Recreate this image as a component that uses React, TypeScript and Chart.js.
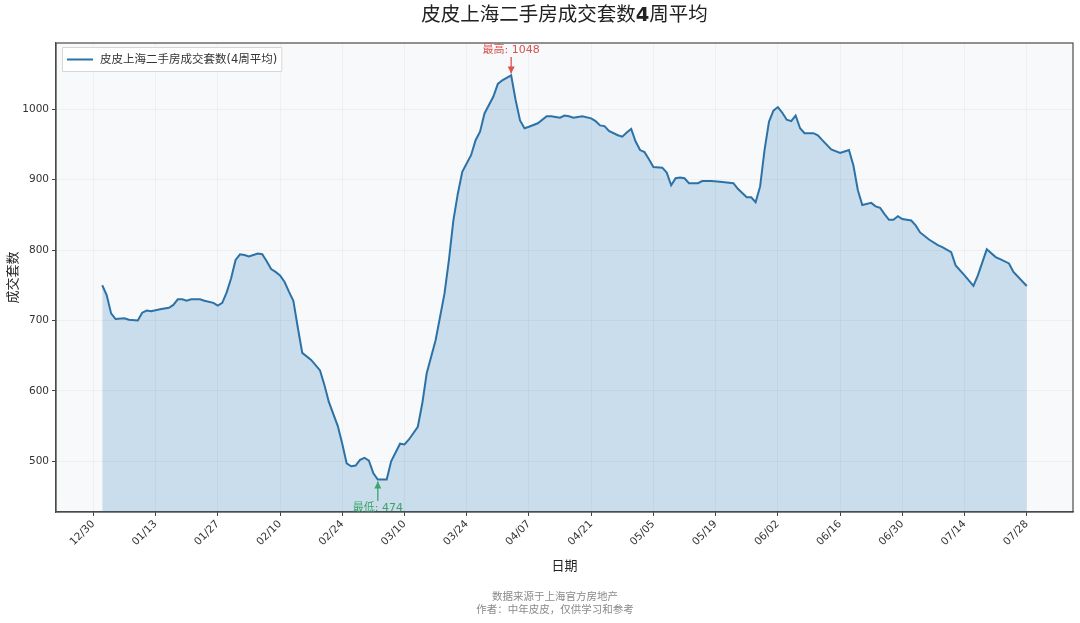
import { useEffect, useRef } from 'react';
import { Chart, registerables } from 'chart.js';

Chart.register(...registerables);

const START_DATE = '2024-12-30';

const dates = [
  '2025-01-01', '2025-01-02', '2025-01-03', '2025-01-04', '2025-01-06', '2025-01-07', '2025-01-09', '2025-01-10',
  '2025-01-11', '2025-01-12', '2025-01-14', '2025-01-16', '2025-01-17', '2025-01-18', '2025-01-19', '2025-01-20',
  '2025-01-21', '2025-01-23', '2025-01-24', '2025-01-26', '2025-01-27', '2025-01-28', '2025-01-29', '2025-01-30',
  '2025-01-31', '2025-02-01', '2025-02-02', '2025-02-03', '2025-02-04', '2025-02-05', '2025-02-06', '2025-02-07',
  '2025-02-08', '2025-02-09', '2025-02-10', '2025-02-11', '2025-02-12', '2025-02-13', '2025-02-14', '2025-02-15',
  '2025-02-17', '2025-02-19', '2025-02-20', '2025-02-21', '2025-02-23', '2025-02-24', '2025-02-25', '2025-02-26',
  '2025-02-27', '2025-02-28', '2025-03-01', '2025-03-02', '2025-03-03', '2025-03-04', '2025-03-06', '2025-03-07',
  '2025-03-09', '2025-03-10', '2025-03-11', '2025-03-13', '2025-03-14', '2025-03-15', '2025-03-17', '2025-03-19',
  '2025-03-20', '2025-03-21', '2025-03-22', '2025-03-23', '2025-03-25', '2025-03-26', '2025-03-27', '2025-03-28',
  '2025-03-30', '2025-03-31', '2025-04-01', '2025-04-03', '2025-04-04', '2025-04-05', '2025-04-06', '2025-04-07',
  '2025-04-09', '2025-04-11', '2025-04-12', '2025-04-14', '2025-04-15', '2025-04-16', '2025-04-17', '2025-04-19',
  '2025-04-21', '2025-04-22', '2025-04-23', '2025-04-24', '2025-04-25', '2025-04-27', '2025-04-28', '2025-04-29',
  '2025-04-30', '2025-05-01', '2025-05-02', '2025-05-03', '2025-05-04', '2025-05-05', '2025-05-07', '2025-05-08',
  '2025-05-09', '2025-05-10', '2025-05-11', '2025-05-12', '2025-05-13', '2025-05-15', '2025-05-16', '2025-05-18',
  '2025-05-20', '2025-05-23', '2025-05-24', '2025-05-26', '2025-05-27', '2025-05-28', '2025-05-29', '2025-05-30',
  '2025-05-31', '2025-06-01', '2025-06-02', '2025-06-03', '2025-06-04', '2025-06-05', '2025-06-06', '2025-06-07',
  '2025-06-08', '2025-06-10', '2025-06-11', '2025-06-12', '2025-06-14', '2025-06-16', '2025-06-17', '2025-06-18',
  '2025-06-19', '2025-06-20', '2025-06-21', '2025-06-23', '2025-06-24', '2025-06-25', '2025-06-26', '2025-06-27',
  '2025-06-28', '2025-06-29', '2025-06-30', '2025-07-02', '2025-07-03', '2025-07-04', '2025-07-06', '2025-07-08',
  '2025-07-09', '2025-07-11', '2025-07-12', '2025-07-14', '2025-07-16', '2025-07-17', '2025-07-19', '2025-07-21',
  '2025-07-22', '2025-07-24', '2025-07-25', '2025-07-28',
];

const values = [
  750, 736, 710, 702, 703, 701, 700, 711,
  714, 713, 716, 718, 722, 730, 730, 728,
  730, 730, 728, 725, 721, 725, 740, 760,
  786, 794, 793, 791, 793, 795, 794, 784,
  773, 769, 764, 755, 741, 728, 690, 654,
  644, 629, 608, 584, 550, 525, 497, 493,
  494, 502, 505, 501, 483, 474, 474, 500,
  525, 524, 531, 549, 582, 625, 672, 738,
  786, 842, 880, 911, 935, 956, 968, 994,
  1018, 1036, 1041, 1048, 1013, 984, 973, 975,
  980, 990, 990, 988, 991, 990, 988, 990,
  987, 983, 977, 976, 969, 963, 961, 967,
  972, 954, 942, 939, 929, 918, 917, 910,
  892, 902, 903, 902, 895, 895, 898, 898,
  897, 895, 887, 875, 875, 868, 890, 942,
  982, 998, 1003, 995, 985, 983, 991, 973,
  966, 966, 963, 956, 943, 938, 940, 942,
  920, 885, 864, 867, 862, 860, 851, 843,
  843, 848, 844, 842, 835, 825, 815, 807,
  804, 797, 778, 764, 749, 764, 801, 790,
  787, 781, 769, 749,
];

const tickDates = [
  '2024-12-30', '2025-01-13', '2025-01-27', '2025-02-10', '2025-02-24', '2025-03-10', '2025-03-24', '2025-04-07',
  '2025-04-21', '2025-05-05', '2025-05-19', '2025-06-02', '2025-06-16', '2025-06-30', '2025-07-14', '2025-07-28',
];

const yTicks = [500, 600, 700, 800, 900, 1000];

const TITLE_PARTS = [
  { text: '皮皮上海二手房成交套数', bold: false },
  { text: '4', bold: true },
  { text: '周平均', bold: false },
];
const SERIES_NAME = '皮皮上海二手房成交套数(4周平均)';
const X_TITLE = '日期';
const Y_TITLE = '成交套数';
const FOOTER_LINES = ['数据来源于上海官方房地产', '作者：中年皮皮，仅供学习和参考'];

const DAY_MS = 86400000;
const dayOf = (iso: string) => Math.round((Date.parse(iso) - Date.parse(START_DATE)) / DAY_MS);
const fmt = (iso: string) => iso.slice(5, 7) + '/' + iso.slice(8, 10);

const FONT = "'DejaVu Sans', 'Noto Sans CJK SC', sans-serif";
const LINE_COLOR = '#2c72a6';
const FILL_COLOR = 'rgba(31,119,180,0.21)';

export default function App() {
  const ref = useRef<HTMLCanvasElement | null>(null);

  useEffect(() => {
    document.body.style.margin = '0';
    const canvas = ref.current;
    if (!canvas) return;

    const xs = dates.map(dayOf);
    const points = xs.map((x, i) => ({ x, y: values[i] }));
    const tickDays = tickDates.map(dayOf);
    const xMinData = Math.min(...xs);
    const xMaxData = Math.max(...xs);
    const xMargin = (xMaxData - xMinData) * 0.05;

    let maxIdx = 0;
    let minIdx = 0;
    values.forEach((v, i) => {
      if (v > values[maxIdx]) maxIdx = i;
      if (v < values[minIdx]) minIdx = i;
    });

    const decorPlugin = {
      id: 'decor',
      beforeDraw(chart: any) {
        const { ctx, chartArea: a } = chart;
        ctx.save();
        ctx.fillStyle = '#ffffff';
        ctx.fillRect(0, 0, chart.width, chart.height);
        ctx.fillStyle = '#f8f9fb';
        ctx.fillRect(a.left, a.top, a.right - a.left, a.bottom - a.top);
        ctx.restore();
      },
      afterDraw(chart: any) {
        const { ctx, chartArea: a, scales } = chart;
        const xS = scales.x;
        const yS = scales.y;
        ctx.save();
        // frame
        ctx.strokeStyle = '#4a4a4a';
        ctx.lineWidth = 1.2;
        ctx.strokeRect(a.left, a.top, a.right - a.left, a.bottom - a.top);

        // title
        const cx = (a.left + a.right) / 2;
        const tFont = (b: boolean) => (b ? 'bold ' : '') + '19.5px ' + FONT;
        const widths = TITLE_PARTS.map((p) => {
          ctx.font = tFont(p.bold);
          return ctx.measureText(p.text).width;
        });
        const total = widths.reduce((s, w) => s + w, 0);
        let tx = cx - total / 2;
        ctx.fillStyle = '#222';
        ctx.textBaseline = 'middle';
        ctx.textAlign = 'left';
        TITLE_PARTS.forEach((p, i) => {
          ctx.font = tFont(p.bold);
          ctx.fillText(p.text, tx, 16);
          tx += widths[i];
        });

        // legend
        ctx.font = '11.5px ' + FONT;
        const lw = ctx.measureText(SERIES_NAME).width;
        const lx = a.left + 6;
        const ly = a.top + 4;
        const bw = lw + 42;
        const bh = 24;
        ctx.fillStyle = 'rgba(255,255,255,0.9)';
        ctx.strokeStyle = '#d6d6d6';
        ctx.lineWidth = 1;
        ctx.beginPath();
        ctx.rect(lx + 0.5, ly + 0.5, bw, bh);
        ctx.fill();
        ctx.stroke();
        ctx.strokeStyle = LINE_COLOR;
        ctx.lineWidth = 2;
        ctx.beginPath();
        ctx.moveTo(lx + 5, ly + bh / 2 + 0.5);
        ctx.lineTo(lx + 31, ly + bh / 2 + 0.5);
        ctx.stroke();
        ctx.fillStyle = '#333';
        ctx.textAlign = 'left';
        ctx.textBaseline = 'middle';
        ctx.fillText(SERIES_NAME, lx + 38, ly + bh / 2 + 1);

        // axis titles
        ctx.fillStyle = '#222';
        ctx.font = '13px ' + FONT;
        ctx.textAlign = 'center';
        ctx.fillText(X_TITLE, cx, 567);
        ctx.save();
        ctx.translate(14, (a.top + a.bottom) / 2);
        ctx.rotate(-Math.PI / 2);
        ctx.fillText(Y_TITLE, 0, 0);
        ctx.restore();

        // footer
        ctx.fillStyle = '#8a8a8a';
        ctx.font = '10.5px ' + FONT;
        FOOTER_LINES.forEach((t, i) => ctx.fillText(t, 555, 597 + i * 13));

        // annotations
        const drawArrow = (x: number, y0: number, y1: number, color: string) => {
          ctx.strokeStyle = color;
          ctx.fillStyle = color;
          ctx.lineWidth = 1.3;
          ctx.beginPath();
          ctx.moveTo(x, y0);
          ctx.lineTo(x, y1);
          ctx.stroke();
          const dir = y1 > y0 ? 1 : -1;
          ctx.beginPath();
          ctx.moveTo(x, y1);
          ctx.lineTo(x - 3.5, y1 - dir * 7);
          ctx.lineTo(x + 3.5, y1 - dir * 7);
          ctx.closePath();
          ctx.fill();
        };
        const red = '#d9534f';
        const green = '#3da56b';
        const pxMax = xS.getPixelForValue(xs[maxIdx]);
        const pyMax = yS.getPixelForValue(values[maxIdx]);
        ctx.font = '11px ' + FONT;
        ctx.textAlign = 'center';
        ctx.textBaseline = 'middle';
        ctx.fillStyle = red;
        ctx.fillText('最高: ' + values[maxIdx], pxMax, 50);
        drawArrow(pxMax, 57, pyMax - 2, red);

        const pxMin = xS.getPixelForValue(xs[minIdx]);
        const pyMin = yS.getPixelForValue(values[minIdx]);
        ctx.fillStyle = green;
        ctx.fillText('最低: ' + values[minIdx], pxMin, 508);
        drawArrow(pxMin, 501, pyMin + 2, green);
        ctx.restore();
      },
    };

    const chart = new Chart(canvas, {
      type: 'line',
      data: {
        datasets: [
          {
            label: SERIES_NAME,
            data: points,
            borderColor: LINE_COLOR,
            backgroundColor: FILL_COLOR,
            borderWidth: 2,
            pointRadius: 0,
            fill: 'start',
            tension: 0,
          },
        ],
      },
      options: {
        animation: false,
        responsive: false,
        maintainAspectRatio: false,
        layout: { padding: { left: 0, right: 7, top: 43, bottom: 0 } },
        plugins: {
          legend: { display: false },
          title: { display: false },
          tooltip: { enabled: false },
        },
        scales: {
          x: {
            type: 'linear',
            min: xMinData - xMargin,
            max: xMaxData + xMargin,
            afterBuildTicks: (scale: any) => {
              scale.ticks = tickDays.map((v) => ({ value: v }));
            },
            afterFit: (scale: any) => {
              scale.height = 111;
            },
            ticks: {
              autoSkip: false,
              minRotation: 45,
              maxRotation: 45,
              padding: 2,
              color: '#333',
              font: { family: FONT, size: 10.5 },
              callback: (_v: any, i: number) => fmt(tickDates[i]),
            },
            grid: {
              color: 'rgba(0,0,0,0.04)',
              tickColor: '#444',
              tickLength: 4,
            },
            border: { display: true, color: '#4a4a4a', width: 1.2 },
          },
          y: {
            min: 428,
            max: 1094,
            afterBuildTicks: (scale: any) => {
              scale.ticks = yTicks.map((v) => ({ value: v }));
            },
            afterFit: (scale: any) => {
              scale.width = 56;
            },
            ticks: {
              padding: 3,
              color: '#333',
              font: { family: FONT, size: 10.5 },
              callback: (v: any) => String(v),
            },
            grid: {
              color: 'rgba(0,0,0,0.04)',
              tickColor: '#444',
              tickLength: 4,
            },
            border: { display: true, color: '#4a4a4a', width: 1.2 },
          },
        },
      },
      plugins: [decorPlugin],
    });

    return () => chart.destroy();
  }, []);

  return (
    <div style={{ width: 1080, height: 623 }}>
      <canvas ref={ref} width={1080} height={623} style={{ display: 'block' }} />
    </div>
  );
}
